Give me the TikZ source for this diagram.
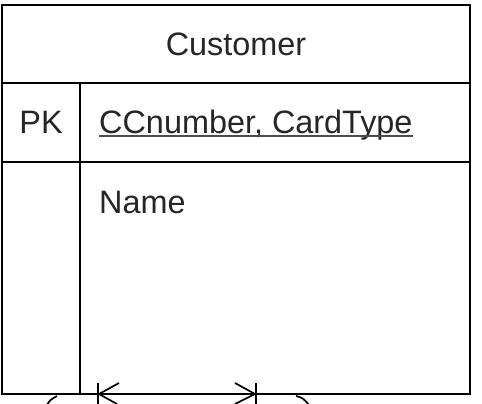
\documentclass[tikz,border=0pt]{standalone}
\usepackage{fontspec}
\setmainfont{Liberation Sans}
\usepackage{tikz}
\usetikzlibrary{positioning}

\begin{document}
\begin{tikzpicture}[x=1pt,y=-1pt,
    cell/.style={rectangle,draw=black,line width=1.8pt,inner sep=0pt,outer sep=0pt,anchor=north west},
    field/.style={inner sep=0pt,text=black!85,font=\fontsize{32.4}{38}\selectfont},
    crow/.style={line width=1.7pt,draw=black}
]
\useasboundingbox (0,0) rectangle (482,404);
% entity table
\node[cell,minimum width=468,minimum height=78] (head) at (2,5) {};
\node[cell,minimum width=78,minimum height=79] (pkcell) at (head.south west) {};
\node[cell,minimum width=390,minimum height=79] (keycell) at (pkcell.north east) {};
\node[cell,minimum width=78,minimum height=232] (attrpk) at (pkcell.south west) {};
\node[cell,minimum width=390,minimum height=232] (attrcell) at (keycell.south west) {};

\node[field] (title) at (head.center) {Customer};
\node[field] (pk) at (pkcell.center) {PK};
\node[field,anchor=base west] (key) at ([shift={(19,10.5)}]keycell.west) {CCnumber, CardType};
\draw[line width=1.2pt,black!70] ([yshift=-3pt]key.base west) -- ([yshift=-3pt]key.base east);
\node[field,anchor=base west] (name) at ([shift={(19,51)}]attrcell.north west) {Name};

% relationship ends along the bottom
\coordinate (relL) at (99,394);
\coordinate (relR) at (255,394);
\draw[crow] (relL) -- (relR);
\draw[crow] ([shift={(-1,-11)}]relL) -- ([shift={(-1,10)}]relL);
\draw[crow] ([shift={(20,-11)}]relL) -- (relL) -- ([shift={(18,10)}]relL);
\draw[crow] ([shift={(1,-11)}]relR) -- ([shift={(1,10)}]relR);
\draw[crow] ([shift={(-20,-11)}]relR) -- (relR) -- ([shift={(-20,10)}]relR);
\draw[crow] ([shift={(-52,11)}]relL) .. controls ([shift={(-49,6)}]relL) .. ([shift={(-42,2)}]relL);
\draw[crow] ([shift={(41,2)}]relR) .. controls ([shift={(48,4)}]relR) .. ([shift={(54,11)}]relR);
\end{tikzpicture}
\end{document}
